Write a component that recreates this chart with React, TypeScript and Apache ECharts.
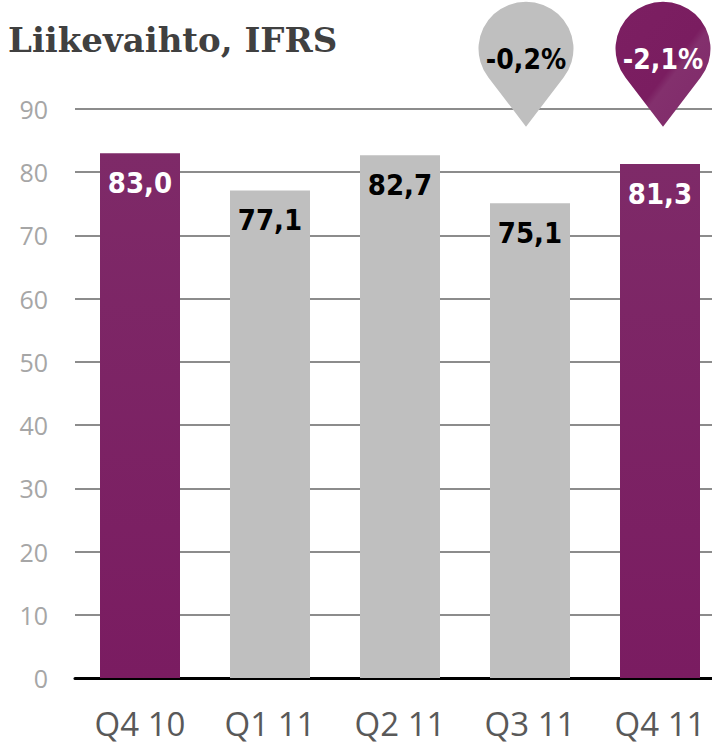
import React, { useEffect, useRef } from "react";
import * as echarts from "echarts";

const categories = ["Q4 10", "Q1 11", "Q2 11", "Q3 11", "Q4 11"];
const values = [83.0, 77.1, 82.7, 75.1, 81.3];
const highlighted = [true, false, false, false, true];
const badgeCategories = ["Q3 11", "Q4 11"];
const badgeLabels = ["-0,2%", "-2,1%"];
const badgeHighlighted = [false, true];
const yTicks = { min: 0, max: 90, interval: 10 };
const title = "Liikevaihto, IFRS";

const PURPLE = new echarts.graphic.LinearGradient(0, 0, 0, 1, [
  { offset: 0, color: "#7e2a68" },
  { offset: 1, color: "#7a1c61" },
]);
const PURPLE_BADGE = new echarts.graphic.LinearGradient(0, 0, 1, 1, [
  { offset: 0, color: "#7c1f62" },
  { offset: 0.55, color: "#7a1d60" },
  { offset: 0.6, color: "#83306d" },
  { offset: 1, color: "#80296a" },
]);
const GRAY = "#bfbfbf";

const TEARDROP =
  "path://M9.8 75.7 A47 47 0 1 1 84.2 75.7 L47 125 Z";

export default function App() {
  const ref = useRef<HTMLDivElement>(null);
  useEffect(() => {
    if (!ref.current) return;
    const chart = echarts.init(ref.current, null, { renderer: "svg" });
    chart.setOption({
      animation: false,
      backgroundColor: "#ffffff",
      title: {
        text: title,
        left: 3,
        top: 18,
        textStyle: {
          fontFamily: "DejaVu Serif",
          fontWeight: "bold",
          fontSize: 34,
          color: "#404040",
        },
      },
      grid: {
        left: 75,
        top: 109,
        bottom: 66,
        width: 650,
        outerBoundsMode: "none",
        containLabel: false,
      },
      xAxis: {
        type: "category",
        data: categories,
        axisLine: { lineStyle: { color: "#000", width: 3 } },
        axisTick: { show: false },
        axisLabel: {
          margin: 31,
          fontFamily: "Open Sans",
          fontSize: 33,
          lineHeight: 28,
          color: "#595959",
        },
      },
      yAxis: {
        type: "value",
        min: yTicks.min,
        max: yTicks.max,
        interval: yTicks.interval,
        axisLine: { show: false },
        axisTick: { show: false },
        splitLine: { lineStyle: { color: "#8c8c8c", width: 2 } },
        axisLabel: {
          margin: 27,
          fontFamily: "Open Sans",
          fontSize: 25,
          color: "#a6a6a6",
        },
      },
      series: [
        {
          type: "bar",
          clip: false,
          barWidth: 80,
          data: values.map((v, i) => ({
            value: v,
            itemStyle: { color: highlighted[i] ? PURPLE : GRAY },
            label: { color: highlighted[i] ? "#ffffff" : "#000000" },
          })),
          label: {
            show: true,
            position: "insideTop",
            distance: 15,
            fontFamily: "DejaVu Sans Condensed",
            fontWeight: "bold",
            fontSize: 29,
            formatter: (p: any) => p.value.toFixed(1).replace(".", ","),
          },
          markPoint: {
            symbol: TEARDROP,
            symbolSize: [95, 125],
            data: badgeCategories.map((c, i) => ({
              coord: [c, 87.2],
              value: badgeLabels[i],
              symbolOffset: [i === 0 ? -4 : 3, "-50%"],
              itemStyle: { color: badgeHighlighted[i] ? PURPLE_BADGE : GRAY },
              label: {
                color: badgeHighlighted[i] ? "#ffffff" : "#000000",
              },
            })),
            label: {
              show: true,
              position: "inside",
              offset: [0, -5],
              fontFamily: "DejaVu Sans Condensed",
              fontWeight: "bold",
              fontSize: 28,
              formatter: (p: any) => p.value,
            },
          },
        },
      ],
    });
    return () => chart.dispose();
  }, []);
  return (
    <div
      ref={ref}
      style={{ position: "fixed", left: 0, top: 0, width: 712, height: 744 }}
    />
  );
}
